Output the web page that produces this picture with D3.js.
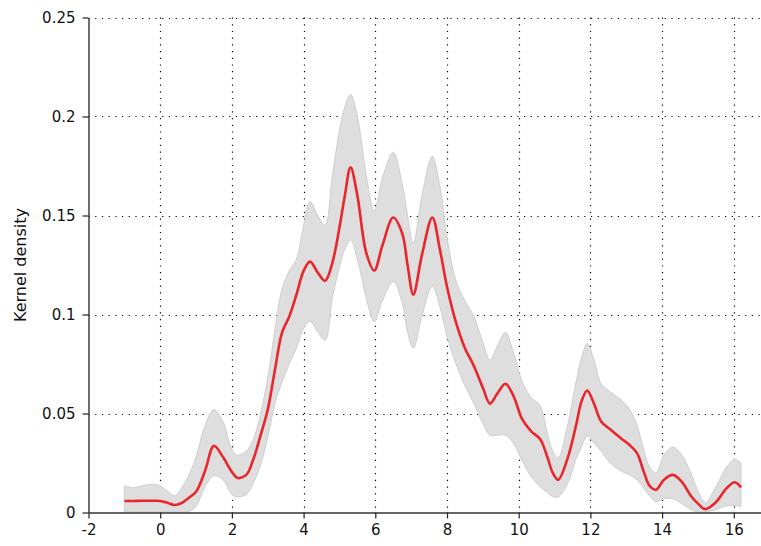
<!DOCTYPE html>
<html>
<head>
<meta charset="utf-8">
<script src="https://cdn.jsdelivr.net/npm/d3@7"></script>
<style>
  body { margin: 0; background: #fff; }
  svg { display: block; }
</style>
</head>
<body>
<div id="chart"></div>
<script>
  // data
  var xs = [-1, -0.75, -0.5, -0.25, 0, 0.2, 0.4, 0.6, 0.8, 1.0, 1.25, 1.5, 1.75, 2.0, 2.15, 2.4, 2.6, 2.8,
    3.0, 3.2, 3.4, 3.6, 3.8, 4.0, 4.18, 4.4, 4.6, 4.8, 5.0, 5.15, 5.31, 5.5, 5.75, 5.97, 6.2, 6.5, 6.75,
    6.9, 7.06, 7.3, 7.59, 7.8, 8.0, 8.25, 8.5, 8.75, 9.0, 9.2, 9.4, 9.63, 9.85, 10.1, 10.35, 10.6, 10.8,
    10.95, 11.1, 11.35, 11.6, 11.75, 11.91, 12.1, 12.3, 12.55, 12.85, 13.1, 13.3, 13.5, 13.65, 13.83,
    14.05, 14.3, 14.55, 14.8, 15.0, 15.2, 15.5, 15.8, 16.03, 16.2];

  var density = [0.0058, 0.0058, 0.0059, 0.0059, 0.0058, 0.0049, 0.0038, 0.0048, 0.0075, 0.0105, 0.021,
    0.0337, 0.028, 0.0205, 0.0175, 0.019, 0.027, 0.039, 0.052, 0.072, 0.091, 0.099, 0.110, 0.122, 0.1267,
    0.121, 0.117, 0.126, 0.144, 0.160, 0.1743, 0.160, 0.131, 0.1222, 0.135, 0.149, 0.141, 0.125, 0.110,
    0.130, 0.149, 0.133, 0.114, 0.096, 0.083, 0.074, 0.063, 0.055, 0.060, 0.065, 0.059, 0.047, 0.041,
    0.037, 0.028, 0.020, 0.0165, 0.0266, 0.044, 0.056, 0.0616, 0.055, 0.046, 0.042, 0.0375, 0.034, 0.030,
    0.020, 0.0135, 0.0115, 0.0165, 0.019, 0.0155, 0.0085, 0.0045, 0.0017, 0.0052, 0.0123, 0.0153, 0.0126];

  var upper = [0.0135, 0.0125, 0.0135, 0.0142, 0.0135, 0.0108, 0.0085, 0.0125, 0.019, 0.028, 0.044,
    0.052, 0.046, 0.032, 0.029, 0.031, 0.037, 0.050, 0.068, 0.092, 0.113, 0.122, 0.128, 0.145, 0.157,
    0.150, 0.145, 0.170, 0.193, 0.205, 0.211, 0.200, 0.170, 0.1525, 0.169, 0.182, 0.166, 0.150, 0.136,
    0.160, 0.180, 0.165, 0.139, 0.117, 0.107, 0.099, 0.086, 0.077, 0.084, 0.091, 0.081, 0.066, 0.058,
    0.054, 0.040, 0.031, 0.0275, 0.043, 0.066, 0.078, 0.0855, 0.077, 0.065, 0.061, 0.057, 0.052, 0.044,
    0.031, 0.023, 0.020, 0.029, 0.033, 0.029, 0.020, 0.011, 0.005, 0.013, 0.023, 0.027, 0.025];

  var lower = [0.0003, 0.0003, 0.0003, 0.0003, 0.0003, 0.0003, 0.0003, 0.0003, 0.0005, 0.003, 0.013,
    0.0185, 0.0165, 0.009, 0.008, 0.009, 0.015, 0.024, 0.038, 0.055, 0.066, 0.075, 0.083, 0.093, 0.0965,
    0.091, 0.087, 0.108, 0.124, 0.133, 0.1377, 0.128, 0.108, 0.0964, 0.107, 0.1166, 0.106, 0.091, 0.083,
    0.099, 0.1144, 0.104, 0.089, 0.075, 0.064, 0.055, 0.045, 0.039, 0.039, 0.039, 0.035, 0.026, 0.018,
    0.013, 0.010, 0.008, 0.0078, 0.014, 0.027, 0.033, 0.0385, 0.035, 0.031, 0.025, 0.021, 0.019, 0.0165,
    0.012, 0.0085, 0.0055, 0.007, 0.0068, 0.0045, 0.0015, 0.0003, 0.0003, 0.0014, 0.0034, 0.0035, 0.003];

  var xTicks = [-2, 0, 2, 4, 6, 8, 10, 12, 14, 16],
    xTickLabels = ['-2', '0', '2', '4', '6', '8', '10', '12', '14', '16'],
    yTicks = [0, 0.05, 0.1, 0.15, 0.2, 0.25],
    yTickLabels = ['0', '0.05', '0.1', '0.15', '0.2', '0.25'];

  var width = 761,
    height = 546,
    plotLeft = 88.5,
    plotTop = 17.5,
    plotBottom = 512.5;

  var pts = xs.map(function(x, i) {
    return {x: x, y: density[i], hi: upper[i], lo: lower[i]};
  });

  var svg = d3.select('#chart')
    .append('svg')
    .attr('width', width)
    .attr('height', height)
    .style('font-family', '"DejaVu Sans", sans-serif');

  var x = d3.scaleLinear().domain([-2, 17]).range([plotLeft, plotLeft + 19 * 35.85]);
  var y = d3.scaleLinear().domain([0, 0.25]).range([plotBottom, plotTop]);

  // dotted grid
  svg.append('g')
    .selectAll('line')
    .data(xTicks.slice(1))
    .enter().append('line')
    .attr('x1', function(d){ return Math.round(x(d)) + 0.5; })
    .attr('x2', function(d){ return Math.round(x(d)) + 0.5; })
    .attr('y1', plotTop)
    .attr('y2', plotBottom)
    .attr('stroke', '#000')
    .attr('stroke-width', 1.2)
    .attr('stroke-dasharray', '1.2,5.5');

  svg.append('g')
    .selectAll('line')
    .data(yTicks.slice(1))
    .enter().append('line')
    .attr('x1', plotLeft)
    .attr('x2', width)
    .attr('y1', function(d){ return Math.round(y(d)) + 0.5; })
    .attr('y2', function(d){ return Math.round(y(d)) + 0.5; })
    .attr('stroke', '#000')
    .attr('stroke-width', 1.2)
    .attr('stroke-dasharray', '1.2,5.5');

  var smooth = d3.curveCatmullRom.alpha(0.5);

  // confidence band
  svg.append('path')
    .datum(pts)
    .attr('fill', '#dedede')
    .attr('stroke', '#cfcfcf')
    .attr('stroke-width', 1)
    .attr('d', d3.area()
      .x(function(d){ return x(d.x); })
      .y0(function(d){ return y(Math.max(0, d.lo)); })
      .y1(function(d){ return y(d.hi); })
      .curve(smooth));

  // density line
  svg.append('path')
    .datum(pts)
    .attr('fill', 'none')
    .attr('stroke', '#e8262b')
    .attr('stroke-width', 2.6)
    .attr('d', d3.line()
      .x(function(d){ return x(d.x); })
      .y(function(d){ return y(d.y); })
      .curve(smooth));

  // axes
  var xAxis = svg.append('g')
    .attr('transform', 'translate(0,' + plotBottom + ')')
    .call(d3.axisBottom(x).tickValues(xTicks).tickSizeInner(6).tickSizeOuter(0).tickPadding(6)
      .tickFormat(function(d, i){ return xTickLabels[i]; }));

  var yAxis = svg.append('g')
    .attr('transform', 'translate(' + plotLeft + ',0)')
    .call(d3.axisLeft(y).tickValues(yTicks).tickSizeInner(6).tickSizeOuter(0).tickPadding(7)
      .tickFormat(function(d, i){ return yTickLabels[i]; }));

  [xAxis, yAxis].forEach(function(g) {
    g.select('.domain').attr('stroke', '#333').attr('stroke-width', 1.4);
    g.selectAll('.tick line').attr('stroke', '#222').attr('stroke-width', 1.2);
    g.selectAll('.tick text')
      .attr('fill', '#111')
      .style('font-size', '15px')
      .style('font-family', '"DejaVu Sans", sans-serif');
  });

  svg.append('text')
    .attr('transform', 'translate(26,265) rotate(-90)')
    .attr('text-anchor', 'middle')
    .style('font-size', '16px')
    .attr('fill', '#111')
    .text('Kernel density');
</script>
</body>
</html>
